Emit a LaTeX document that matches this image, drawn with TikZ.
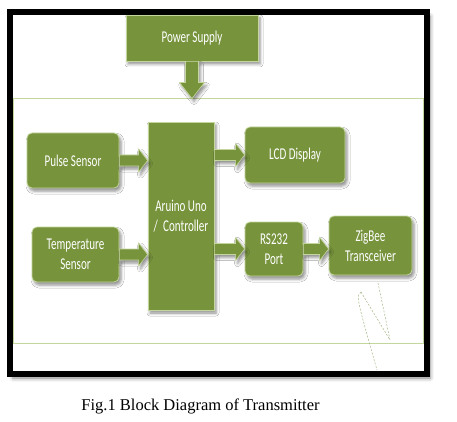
\documentclass[tikz,border=0pt]{standalone}
\usepackage{fontspec}
\setmainfont{Liberation Serif}
\newfontfamily\capfont{Liberation Serif}
\newfontfamily\boxfont[FakeStretch=0.67]{Carlito}
\usetikzlibrary{calc,shadows.blur}
\definecolor{boxgreen}{HTML}{77933C}
\definecolor{boxborder}{HTML}{C3D69B}
\definecolor{framegreen}{HTML}{C3D69B}
\definecolor{scrib}{HTML}{A7B888}
\tikzset{
  shad/.style={blur shadow={shadow xshift=2pt,shadow yshift=-3pt,shadow opacity=45,shadow blur radius=3pt}},
  blockbox/.style={draw=boxborder,fill=boxgreen,line width=0.8pt,text=white,align=center,
    font=\boxfont\fontsize{16.5}{20}\selectfont,inner sep=0pt,shad},
  roundbox/.style={blockbox,rounded corners=5pt},
  arr/.style={fill=boxgreen,draw=boxborder,line width=0.6pt,shad},
  scribble/.style={draw=scrib,line width=0.5pt,dash pattern=on 2pt off 1.5pt}
}
\newcommand\fatH[2]{\path[arr] ($(#1)+(0,-5.5)$) -- ($(#2)+(-9,-5.5)$) -- ($(#2)+(-9,-11.5)$) -- (#2) -- ($(#2)+(-9,11.5)$) -- ($(#2)+(-9,5.5)$) -- ($(#1)+(0,5.5)$) -- cycle;}
\begin{document}
\begin{tikzpicture}[x=1pt,y=-1pt]
\useasboundingbox (0,0) rectangle (457,422);
% frame
\node[draw=black,fill=white,line width=6pt,minimum width=417pt,minimum height=362pt,inner sep=0pt,
  blur shadow={shadow xshift=3pt,shadow yshift=-4pt,shadow opacity=50,shadow blur radius=4pt}] (frame) at (218.5,193) {};
\node[draw=framegreen,line width=1pt,minimum width=410pt,minimum height=244pt,inner sep=0pt] (inner) at (218,221) {};
% blocks
\node[blockbox,minimum width=132pt,minimum height=46pt] (power) at (192,38) {Power Supply};
\node[roundbox,minimum width=92pt,minimum height=55pt] (pulse) at (73,160.5) {Pulse Sensor};
\node[roundbox,minimum width=87pt,minimum height=55pt] (temp) at (75.5,254.5) {Temperature\\Sensor};
\node[blockbox,minimum width=66pt,minimum height=188pt] (ctrl) at (181,216) {Aruino Uno\\ /\, Controller};
\node[roundbox,minimum width=100pt,minimum height=56pt] (lcd) at (295,155) {LCD Display};
\node[roundbox,minimum width=58pt,minimum height=54pt] (rs) at (274,249) {RS232\\Port};
\node[roundbox,minimum width=83pt,minimum height=59pt] (zig) at (370.5,245.5) {ZigBee\\Transceiver};
% power arrow
\coordinate (pend) at (power.south |- inner.north);
\path[arr] ($(power.south)+(-6.5,0)$) -- ($(pend)+(-6.5,-16)$) -- ($(pend)+(-12.5,-16)$) -- (pend) -- ($(pend)+(12.5,-16)$) -- ($(pend)+(6.5,-16)$) -- ($(power.south)+(6.5,0)$) -- cycle;
% horizontal arrows
\coordinate (t1) at (pulse.east -| ctrl.west);
\coordinate (t2) at (temp.east -| ctrl.west);
\coordinate (s3) at (ctrl.east |- lcd.west);
\coordinate (s4) at (ctrl.east |- rs.west);
\coordinate (t5) at (rs.east -| zig.west);
\fatH{pulse.east}{t1}
\fatH{temp.east}{t2}
\fatH{s3}{lcd.west}
\fatH{s4}{rs.west}
\fatH{rs.east}{t5}
% scribbles
\coordinate (w1) at (378,283);
\coordinate (w2) at (390,340);
\coordinate (w3) at (361,292);
\coordinate (w4) at (377,370);
\draw[scribble] (w1) -- (w2);
\draw[scribble] (w3) .. controls (356,296) .. (w4);
\draw[scribble] (w3) -- (w2);
% caption
\node[anchor=base,font=\capfont\fontsize{16.5}{19}\selectfont,inner sep=0pt] (cap) at (200.5,410.5) {Fig.1 Block Diagram of Transmitter};
\end{tikzpicture}
\end{document}
